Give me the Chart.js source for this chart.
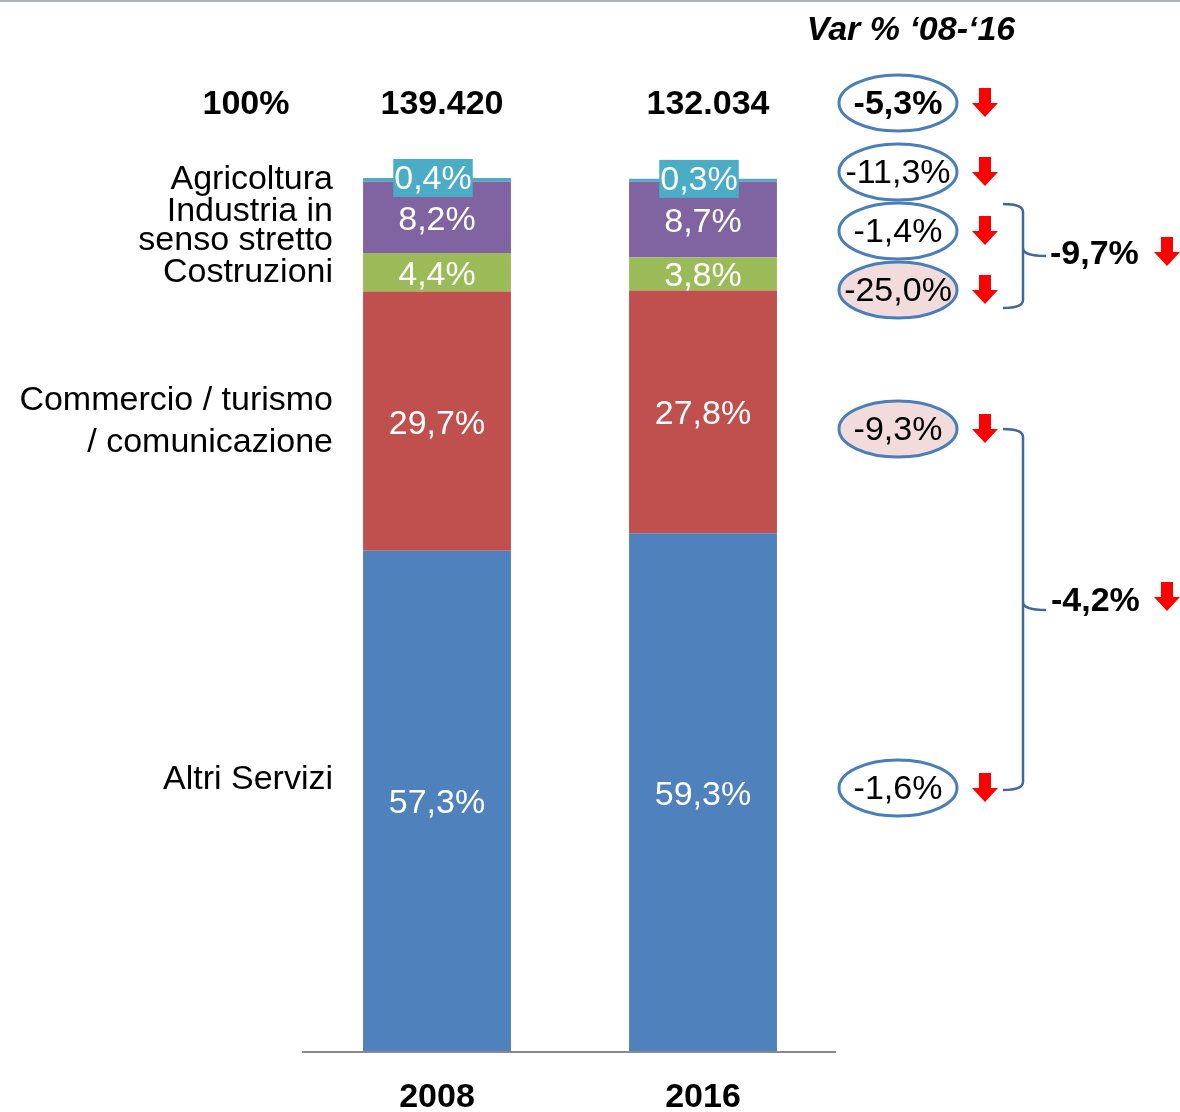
<!DOCTYPE html>
<html lang="it">
<head>
<meta charset="UTF-8">
<title>Occupati per settore 2008-2016</title>
<script src="https://cdn.jsdelivr.net/npm/chart.js"></script>
<style>
    body { margin: 0; background: #fff; }
    #wrap { width: 1180px; height: 1112px; }
</style>
</head>
<body>
<div id="wrap"><canvas id="myChart" width="1180" height="1112"></canvas></div>
<script>
// dati
const anni = ['2008', '2016'];
const totali = ['139.420', '132.034'];
const settori = ['Altri Servizi', 'Commercio / turismo / comunicazione', 'Costruzioni', 'Industria in senso stretto', 'Agricoltura'];
const altriServizi = [57.3, 59.3];
const commercio = [29.7, 27.8];
const costruzioni = [4.4, 3.8];
const industria = [8.2, 8.7];
const agricoltura = [0.4, 0.3];
const colori = ['#4F81BD', '#C0504D', '#9BBB59', '#8064A2', '#4BACC6'];

// variazioni '08-'16
const varTotale = '-5,3%';
const varSettori = ['-11,3%', '-1,4%', '-25,0%', '-9,3%', '-1,6%'];
const varGruppi = ['-9,7%', '-4,2%'];

const serie = [altriServizi, commercio, costruzioni, industria, agricoltura];
const FONT = "'Liberation Sans', Arial, sans-serif";

function fmt(v) {
    return v.toFixed(1).replace('.', ',') + '%';
}

function freccia(ctx, x, y) {
    // freccia rossa verso il basso centrata in (x, y)
    ctx.fillStyle = '#FF0000';
    ctx.beginPath();
    ctx.moveTo(x - 6, y - 15);
    ctx.lineTo(x + 6, y - 15);
    ctx.lineTo(x + 6, y);
    ctx.lineTo(x + 13, y);
    ctx.lineTo(x, y + 14);
    ctx.lineTo(x - 13, y);
    ctx.lineTo(x - 6, y);
    ctx.closePath();
    ctx.fill();
}

function graffa(ctx, y1, y2, ym) {
    ctx.strokeStyle = '#41679C';
    ctx.lineWidth = 2.5;
    const xe = 1003, xs = 1023, xp = 1046, r = 8;
    ctx.beginPath();
    ctx.moveTo(xe, y1);
    ctx.quadraticCurveTo(xs, y1, xs, y1 + r);
    ctx.lineTo(xs, ym - r);
    ctx.quadraticCurveTo(xs, ym, xp, ym);
    ctx.moveTo(xs, ym - r);
    ctx.quadraticCurveTo(xs, ym, xs, ym + r);
    ctx.lineTo(xs, y2 - r);
    ctx.quadraticCurveTo(xs, y2, xe, y2);
    ctx.stroke();
}

const decorazioni = {
    id: 'decorazioni',
    beforeDatasetsDraw(chart) {
        const ctx = chart.ctx;
        ctx.save();
        ctx.fillStyle = '#A9B2C3';
        ctx.fillRect(0, 0, 1180, 2);
        ctx.restore();
    },
    afterDatasetsDraw(chart) {
        const ctx = chart.ctx;
        const x = chart.scales.x;
        const area = chart.chartArea;
        ctx.save();

        // asse orizzontale
        ctx.strokeStyle = '#898989';
        ctx.lineWidth = 2;
        ctx.beginPath();
        ctx.moveTo(area.left - 2, area.bottom + 1);
        ctx.lineTo(area.right, area.bottom + 1);
        ctx.stroke();

        // etichette dentro le barre
        ctx.textAlign = 'center';
        ctx.textBaseline = 'middle';
        ctx.font = '34px ' + FONT;
        chart.data.datasets.forEach((ds, i) => {
            const meta = chart.getDatasetMeta(i);
            meta.data.forEach((bar, j) => {
                const testo = fmt(ds.data[j]);
                let cy = (bar.y + bar.base) / 2;
                if (i === 4) {
                    cy = bar.y;
                    const w = ctx.measureText(testo).width + 2;
                    ctx.fillStyle = colori[4];
                    ctx.fillRect(bar.x - w / 2 - 4, cy - 19, w, 38);
                    ctx.fillStyle = '#FFFFFF';
                    ctx.fillText(testo, bar.x - 4, cy + 2);
                    return;
                }
                ctx.fillStyle = '#FFFFFF';
                ctx.fillText(testo, bar.x, cy + 3);
            });
        });

        // riga superiore
        ctx.fillStyle = '#000';
        ctx.font = 'bold 34px ' + FONT;
        ctx.fillText('100%', 246, 105);
        totali.forEach((t, j) => ctx.fillText(t, x.getPixelForValue(j) + 5, 105));

        // anni
        anni.forEach((a, j) => ctx.fillText(a, x.getPixelForValue(j), 1098));

        // titolo variazioni
        ctx.font = 'italic bold 34px ' + FONT;
        ctx.fillText("Var % \u201808-\u201816", 911, 31);

        // etichette settori a sinistra
        ctx.textAlign = 'right';
        ctx.font = '34px ' + FONT;
        const sinistra = [
            ['Agricoltura', 180], ['Industria in', 212], ['senso stretto', 241],
            ['Costruzioni', 273], ['Commercio / turismo', 401], ['/ comunicazione', 443],
            ['Altri Servizi', 780]
        ];
        sinistra.forEach(([t, y]) => ctx.fillText(t, 333, y));

        // ellissi con variazioni
        const ellissi = [
            [varTotale, 103, true, false],
            [varSettori[0], 172, false, false],
            [varSettori[1], 231, false, false],
            [varSettori[2], 290, false, true],
            [varSettori[3], 429, false, true],
            [varSettori[4], 788, false, false]
        ];
        ctx.textAlign = 'center';
        ellissi.forEach(([t, y, grassetto, rosa]) => {
            ctx.beginPath();
            ctx.ellipse(898, y, 59, 28, 0, 0, Math.PI * 2);
            ctx.fillStyle = rosa ? '#F2DCDB' : '#FFFFFF';
            ctx.fill();
            ctx.strokeStyle = '#4A7EBB';
            ctx.lineWidth = 3;
            ctx.stroke();
            ctx.fillStyle = '#000';
            ctx.font = (grassetto ? 'bold ' : '') + '34px ' + FONT;
            ctx.fillText(t, 898, y + 2);
            freccia(ctx, 985, y);
        });

        // graffe di gruppo
        graffa(ctx, 204, 308, 256);
        graffa(ctx, 429, 790, 610);
        ctx.textAlign = 'left';
        ctx.fillStyle = '#000';
        ctx.font = 'bold 34px ' + FONT;
        ctx.fillText(varGruppi[0], 1050, 255);
        ctx.fillText(varGruppi[1], 1051, 602);
        freccia(ctx, 1167, 252);
        freccia(ctx, 1167, 597);

        ctx.restore();
    }
};

const ctx = document.getElementById('myChart').getContext('2d');
new Chart(ctx, {
    type: 'bar',
    data: {
        labels: anni,
        datasets: serie.map((d, i) => ({
            label: settori[i],
            data: d,
            backgroundColor: colori[i],
            borderWidth: 0,
            barPercentage: 0.556,
            categoryPercentage: 1
        }))
    },
    options: {
        responsive: false,
        animation: false,
        layout: { padding: { left: 304, right: 344, top: 178, bottom: 61 } },
        plugins: { legend: { display: false }, tooltip: { enabled: false } },
        scales: {
            x: { stacked: true, display: false },
            y: { stacked: true, display: false, min: 0, max: 100 }
        }
    },
    plugins: [decorazioni]
});
</script>
</body>
</html>
